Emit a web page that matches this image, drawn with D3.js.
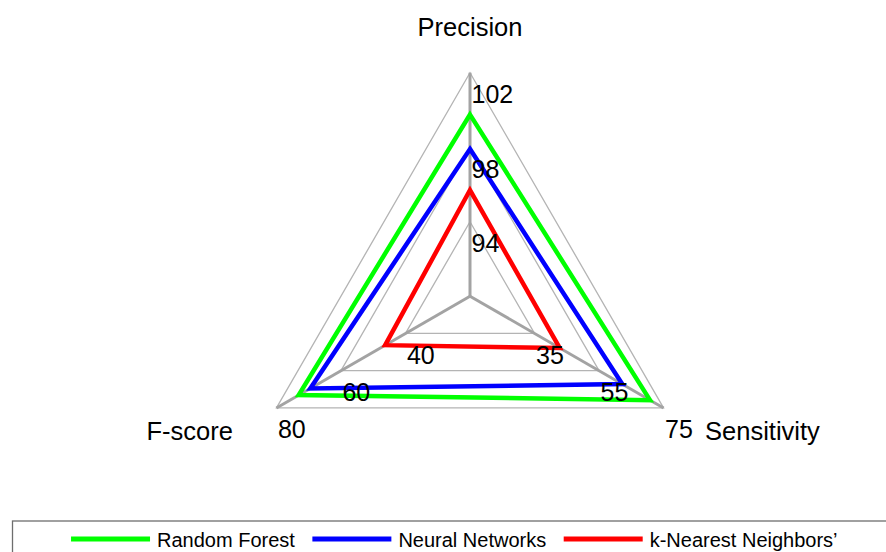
<!DOCTYPE html>
<html>
<head>
<meta charset="utf-8">
<script src="https://cdn.jsdelivr.net/npm/d3@7"></script>
<style>
  body { margin: 0; background: #fff; }
  svg { display: block; font-family: "Liberation Sans", Arial, sans-serif; }
</style>
</head>
<body>
<div class="radar"></div>
<script>
// axes, their own ranges and the labelled rings
var axes = ["Precision", "Sensitivity", "F-score"];
var axisMin = [90, 15, 20];
var axisMax = [102, 75, 80];
var precisionTicks = [94, 98, 102];
var sensitivityTicks = [35, 55, 75];
var fscoreTicks = [40, 60, 80];

// series values: precision, sensitivity, f-score
var seriesNames = ["Random Forest", "Neural Networks", "k-Nearest Neighbors\u2019"];
var randomForest = [99.75, 70.8, 73.1];
var neuralNetworks = [97.9, 62.2, 69.5];
var kNearest = [95.7, 42.8, 46.3];
var seriesColors = ["#00ff00", "#0000ff", "#ff0000"];

var width = 886, height = 552;
var cx = 470, cy = 296.2, R = 223.5;
var angles = [-90, 30, 150].map((a) => (a * Math.PI) / 180);
var allTicks = [precisionTicks, sensitivityTicks, fscoreTicks];

var svg = d3
    .select(".radar")
    .append("svg")
    .attr("width", width)
    .attr("height", height);

var scales = axes.map((a, i) =>
    d3.scaleLinear().domain([axisMin[i], axisMax[i]]).range([0, R])
);

const point = (i, v) => {
    var r = scales[i](v);
    return [cx + r * Math.cos(angles[i]), cy + r * Math.sin(angles[i])];
};

// rings, thin grey
var ringSteps = d3.range(1, 4);
svg.append("g")
    .selectAll("polygon")
    .data(ringSteps)
    .enter()
    .append("polygon")
    .attr("points", (k) =>
        axes.map((a, i) => point(i, allTicks[i][k - 1]).join(",")).join(" ")
    )
    .attr("fill", "none")
    .attr("stroke", "#b4b4b4")
    .attr("stroke-width", 1.3);

// spokes, thick grey
svg.append("g")
    .selectAll("line")
    .data(axes)
    .enter()
    .append("line")
    .attr("x1", cx)
    .attr("y1", cy)
    .attr("x2", (d, i) => point(i, axisMax[i])[0])
    .attr("y2", (d, i) => point(i, axisMax[i])[1])
    .attr("stroke", "#a3a3a3")
    .attr("stroke-width", 3);

// series
var seriesData = [randomForest, neuralNetworks, kNearest];
svg.append("g")
    .selectAll("polygon")
    .data(seriesData)
    .enter()
    .append("polygon")
    .attr("points", (vals) => vals.map((v, i) => point(i, v).join(",")).join(" "))
    .attr("fill", "none")
    .attr("stroke", (d, i) => seriesColors[i])
    .attr("stroke-width", 4.5)
    .attr("stroke-linejoin", "miter");

// tick labels on each axis
var tickG = svg.append("g").attr("font-size", "25px").attr("fill", "#000");
axes.forEach((a, i) => {
    allTicks[i].forEach((t) => {
        var p = point(i, t);
        tickG.append("text")
            .attr("x", p[0] + 1.5)
            .attr("y", p[1] + 30.5)
            .text(t);
    });
});

// axis titles
var titleG = svg.append("g").attr("font-size", "25.5px").attr("fill", "#000");
var topPt = point(0, axisMax[0]);
titleG.append("text")
    .attr("x", topPt[0])
    .attr("y", topPt[1] - 36.5)
    .attr("text-anchor", "middle")
    .text(axes[0]);
var rightPt = point(1, axisMax[1]);
titleG.append("text")
    .attr("x", rightPt[0] + 41.5)
    .attr("y", rightPt[1] + 32)
    .text(axes[1]);
var leftPt = point(2, axisMax[2]);
titleG.append("text")
    .attr("x", leftPt[0] - 43.5)
    .attr("y", leftPt[1] + 32)
    .attr("text-anchor", "end")
    .text(axes[2]);

// legend
svg.append("rect")
    .attr("x", 12.5)
    .attr("y", 521)
    .attr("width", 884)
    .attr("height", 60)
    .attr("fill", "none")
    .attr("stroke", "#6e6e6e")
    .attr("stroke-width", 1.3);

var legend = svg.append("g").attr("font-size", "20px");
var items = legend
    .selectAll("g")
    .data(seriesNames)
    .enter()
    .append("g");
items.append("line")
    .attr("x1", 0)
    .attr("x2", 79)
    .attr("y1", 0)
    .attr("y2", 0)
    .attr("stroke", (d, i) => seriesColors[i])
    .attr("stroke-width", 5);
items.append("text")
    .attr("x", 86)
    .attr("y", 7.5)
    .text((d) => d);

var xPos = 0;
var offsets = [];
items.each(function () {
    offsets.push(xPos);
    var w = d3.select(this).select("text").node().getComputedTextLength();
    xPos += 86 + w + 17.5;
});
var total = xPos - 17.5;
var startX = 454.3 - total / 2;
items.attr("transform", (d, i) => `translate(${startX + offsets[i]},539)`);
</script>
</body>
</html>
